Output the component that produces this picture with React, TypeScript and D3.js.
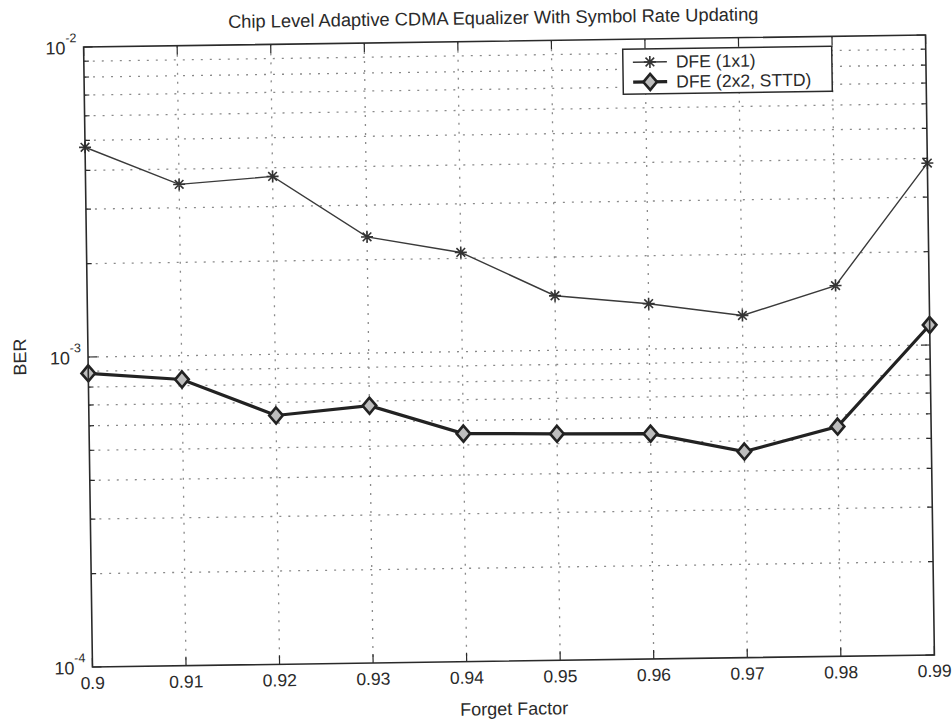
import React from "react";
import * as d3 from "d3";

const forgetFactors = [0.9, 0.91, 0.92, 0.93, 0.94, 0.95, 0.96, 0.97, 0.98, 0.99];
const berDfe1x1 = [4.75e-3, 3.57e-3, 3.75e-3, 2.37e-3, 2.09e-3, 1.5e-3, 1.4e-3, 1.27e-3, 1.57e-3, 3.86e-3];
const berDfe2x2 = [8.86e-4, 8.38e-4, 6.35e-4, 6.76e-4, 5.44e-4, 5.38e-4, 5.33e-4, 4.62e-4, 5.51e-4, 1.16e-3];
const xTickLabels = ["0.9", "0.91", "0.92", "0.93", "0.94", "0.95", "0.96", "0.97", "0.98", "0.99"];
const yMajorTicks = [1e-4, 1e-3, 1e-2];
const yExponents = ["-4", "-3", "-2"];
const seriesNames = ["DFE (1x1)", "DFE (2x2, STTD)"];
const title = "Chip Level Adaptive CDMA Equalizer With Symbol Rate Updating";
const xLabel = "Forget Factor";
const yLabel = "BER";

const FONT = "'Liberation Sans', Arial, Helvetica, sans-serif";

export default function App() {
  const left = 88, top = 41, W = 842, H = 620;
  const x = d3.scaleLinear().domain([0.9, 0.99]).range([0, W]);
  const y = d3.scaleLog().domain([1e-4, 1e-2]).range([H, 0]);
  const minorY: number[] = [];
  [1e-4, 1e-3].forEach((d) => {
    for (let k = 2; k <= 9; k++) minorY.push(d * k);
  });
  const line = d3
    .line<[number, number]>()
    .x((d) => x(d[0]))
    .y((d) => y(d[1]));
  const s1 = forgetFactors.map((f, i) => [f, berDfe1x1[i]] as [number, number]);
  const s2 = forgetFactors.map((f, i) => [f, berDfe2x2[i]] as [number, number]);
  const star = (cx: number, cy: number, r: number) => {
    const p: string[] = [];
    p.push(`M${cx - r},${cy}L${cx + r},${cy}`);
    p.push(`M${cx},${cy - r}L${cx},${cy + r}`);
    const q = r * 0.72;
    p.push(`M${cx - q},${cy - q}L${cx + q},${cy + q}`);
    p.push(`M${cx - q},${cy + q}L${cx + q},${cy - q}`);
    return p.join("");
  };
  const diamond = (cx: number, cy: number, r: number) =>
    `M${cx},${cy - r}L${cx + r * 0.85},${cy}L${cx},${cy + r}L${cx - r * 0.85},${cy}Z`;
  const gridColor = "#8a8a8a";
  const dash = "2,7";
  const ink = "#2a2a2a";

  const legX = W - 303, legY = 10, legW = 209, legH = 45;

  return (
    <svg width={952} height={723} style={{ position: "absolute", left: 0, top: 0, background: "#fff" }} fontFamily={FONT}>
      <rect x={0} y={0} width={952} height={723} fill="#fff" />
      <g transform="rotate(-0.82, 509, 351)">
        <text x={498} y={24} textAnchor="middle" fontSize={18.3} fill={ink}>{title}</text>
        <text x={509} y={715} textAnchor="middle" fontSize={18} fill={ink}>{xLabel}</text>
        <text transform="translate(26,350) rotate(-90)" textAnchor="middle" fontSize={18} fill={ink}>{yLabel}</text>
        <g transform={`translate(${left},${top})`}>
          {minorY.concat([1e-3]).map((v, i) => (
            <line key={"hy" + i} x1={0} x2={W} y1={y(v)} y2={y(v)} stroke={gridColor} strokeWidth={1.3} strokeDasharray={dash} />
          ))}
          {forgetFactors.slice(1, -1).map((v, i) => (
            <line key={"vx" + i} x1={x(v)} x2={x(v)} y1={0} y2={H} stroke={gridColor} strokeWidth={1.3} strokeDasharray={dash} />
          ))}
          {minorY.map((v, i) => (
            <g key={"my" + i}>
              <line x1={0} x2={5} y1={y(v)} y2={y(v)} stroke={ink} strokeWidth={1.2} />
              <line x1={W} x2={W - 5} y1={y(v)} y2={y(v)} stroke={ink} strokeWidth={1.2} />
            </g>
          ))}
          {yMajorTicks.map((v, i) => (
            <g key={"My" + i}>
              <line x1={0} x2={9} y1={y(v)} y2={y(v)} stroke={ink} strokeWidth={1.2} />
              <line x1={W} x2={W - 9} y1={y(v)} y2={y(v)} stroke={ink} strokeWidth={1.2} />
              <text x={-7} y={y(v) + 7} textAnchor="end" fontSize={18} fill={ink}>
                10<tspan dy={-12} fontSize={12.5}>{yExponents[i]}</tspan>
              </text>
            </g>
          ))}
          {forgetFactors.map((v, i) => (
            <g key={"xt" + i}>
              <line x1={x(v)} x2={x(v)} y1={H} y2={H - 9} stroke={ink} strokeWidth={1.2} />
              <line x1={x(v)} x2={x(v)} y1={0} y2={9} stroke={ink} strokeWidth={1.2} />
              <text x={x(v)} y={H + 22} textAnchor="middle" fontSize={17.5} fill={ink}>{xTickLabels[i]}</text>
            </g>
          ))}
          <path d={line(s1) || ""} fill="none" stroke="#3a3a3a" strokeWidth={1.4} />
          {s1.map((d, i) => (
            <path key={"s1" + i} d={star(x(d[0]), y(d[1]), 6)} stroke="#333" strokeWidth={1.6} fill="none" />
          ))}
          <path d={line(s2) || ""} fill="none" stroke="#222" strokeWidth={3.2} />
          {s2.map((d, i) => (
            <path key={"s2" + i} d={diamond(x(d[0]), y(d[1]), 8)} stroke="#222" strokeWidth={2.6} fill="#bdbdbd" />
          ))}
          <rect x={0} y={0} width={W} height={H} fill="none" stroke={ink} strokeWidth={1.6} />
          <g transform={`translate(${legX},${legY})`}>
            <rect x={0} y={0} width={legW} height={legH} fill="#fff" stroke={ink} strokeWidth={1.5} />
            <line x1={10} x2={44} y1={13} y2={13} stroke="#3a3a3a" strokeWidth={1.4} />
            <path d={star(27, 13, 6)} stroke="#333" strokeWidth={1.6} fill="none" />
            <text x={53} y={19} fontSize={17.5} fill={ink}>{seriesNames[0]}</text>
            <line x1={10} x2={44} y1={33} y2={33} stroke="#222" strokeWidth={3.2} />
            <path d={diamond(27, 33, 8)} stroke="#222" strokeWidth={2.6} fill="#bdbdbd" />
            <text x={53} y={39} fontSize={17.5} fill={ink}>{seriesNames[1]}</text>
          </g>
        </g>
      </g>
    </svg>
  );
}
